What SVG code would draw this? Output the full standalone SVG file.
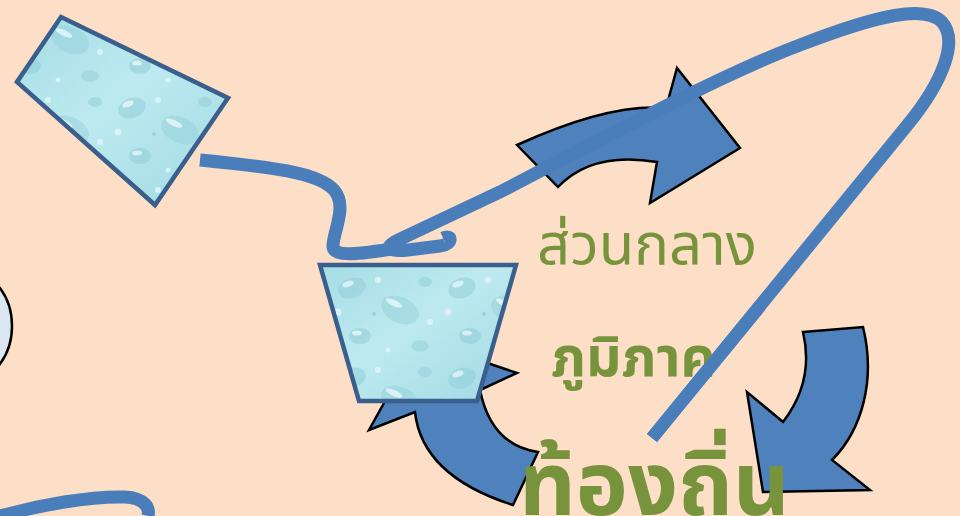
<svg xmlns="http://www.w3.org/2000/svg" width="960" height="516" viewBox="0 0 960 516">
  <defs>
    <linearGradient id="water" x1="0" y1="0" x2="1" y2="1">
      <stop offset="0" stop-color="#A6DCE5"/>
      <stop offset="0.45" stop-color="#BDEAF0"/>
      <stop offset="1" stop-color="#A2D9E3"/>
    </linearGradient>
    <pattern id="drops" patternUnits="userSpaceOnUse" width="110" height="90">
      <ellipse cx="22" cy="18" rx="14" ry="10" fill="#8FCBD7" opacity="0.5" transform="rotate(-20 22 18)"/>
      <ellipse cx="18" cy="14" rx="6" ry="3" fill="#E6F8FB" opacity="0.8" transform="rotate(-20 18 14)"/>
      <ellipse cx="70" cy="40" rx="20" ry="13" fill="#92CEDA" opacity="0.45" transform="rotate(25 70 40)"/>
      <ellipse cx="64" cy="33" rx="9" ry="3" fill="#E8F9FB" opacity="0.8" transform="rotate(25 64 33)"/>
      <ellipse cx="30" cy="66" rx="11" ry="8" fill="#8DCAD6" opacity="0.5"/>
      <ellipse cx="27" cy="63" rx="5" ry="2.5" fill="#E6F8FB" opacity="0.8"/>
      <ellipse cx="95" cy="12" rx="7" ry="5" fill="#90CCD8" opacity="0.5"/>
      <ellipse cx="90" cy="76" rx="9" ry="6" fill="#90CCD8" opacity="0.45"/>
      <circle cx="48" cy="10" r="3" fill="#D9F3F7"/>
      <circle cx="8" cy="42" r="3.5" fill="#D9F3F7"/>
      <circle cx="58" cy="80" r="2.5" fill="#D9F3F7"/>
      <circle cx="100" cy="52" r="3" fill="#D9F3F7"/>
      <circle cx="44" cy="44" r="2" fill="#87C5D2" opacity="0.6"/>
    </pattern>
  </defs>
  <style>
    .cupbg { fill: url(#water); stroke: none; }
    .cup { fill: url(#drops); stroke: #3A5F8C; stroke-width: 4.5; stroke-linejoin: miter; }
    .arrow { fill: #4F81BD; stroke: #000; stroke-width: 2.5; stroke-linejoin: miter; }
    .line { fill: none; stroke: #4A7EBB; stroke-width: 13; }
    .txt { fill: #77933C; font-family: "Noto Sans Thai", "Noto Sans", "DejaVu Sans", sans-serif; }
  </style>
  <rect width="960" height="516" fill="#FDDFC7"/>

  <g id="left-ellipse">
    <ellipse cx="-30" cy="326" rx="42" ry="54" fill="#DCE6F2" stroke="#000" stroke-width="2.5"/>
  </g>

  <g id="arrow-bottom">
    <path class="arrow" d="M 513 505 L 538 452 Q 491 445 480 390 L 517 373 L 419 340 L 369 430 L 415 412 Q 422 476 513 505 Z"/>
  </g>
  <g id="arrow-top">
    <path class="arrow" d="M 517 145 Q 609 103 666 108 L 677 68 L 740 148 L 650 203 L 657 162 Q 592 151 558 187 Z"/>
  </g>
  <g id="arrow-right">
    <path class="arrow" d="M 803 332 L 863 327 C 876 380 862 430 832 460 L 870 490 L 763 492 L 747 392 L 783 422 C 800 400 812 370 803 332 Z"/>
  </g>

  <g id="cup-top">
    <polygon class="cupbg" points="61,17 228,98 155,205 17,82"/>
    <polygon class="cup" points="61,17 228,98 155,205 17,82"/>
  </g>

  <g id="connectors">
    <path class="line" stroke-width="14" d="M 200 160 C 270 167 318 172 334 190 C 348 206 333 232 333 246 C 333 258 360 254 398 248"/>
    <path class="line" d="M 652 438 L 905 128 C 945 80 958 40 942 22 C 925 5 880 14 800 45 C 720 75 600 140 500 192 L 398 240 C 382 248 390 252 408 250 L 440 246 C 454 244 452 234 443 238"/>
    <path class="line" stroke-width="12" d="M 0 516 C 40 505 90 496 125 497 C 145 498 150 508 148 516"/>
  </g>

  <g id="cup-bottom">
    <polygon class="cupbg" points="320,265 516,265 477,401 359,401"/>
    <polygon class="cup" points="320,265 516,265 477,401 359,401"/>
  </g>

  <g id="labels">
    <text class="txt" x="537" y="264" font-size="58">ส่วนกลาง</text>
    <text class="txt" x="551" y="376" font-size="55" font-weight="bold">ภูมิภาค</text>
    <text class="txt" x="519" y="515" font-size="88" font-weight="bold">ท้องถิ่น</text>
  </g>
  <g id="overline">
    <path class="line" d="M 652 438 L 760 306"/>
  </g>
</svg>
